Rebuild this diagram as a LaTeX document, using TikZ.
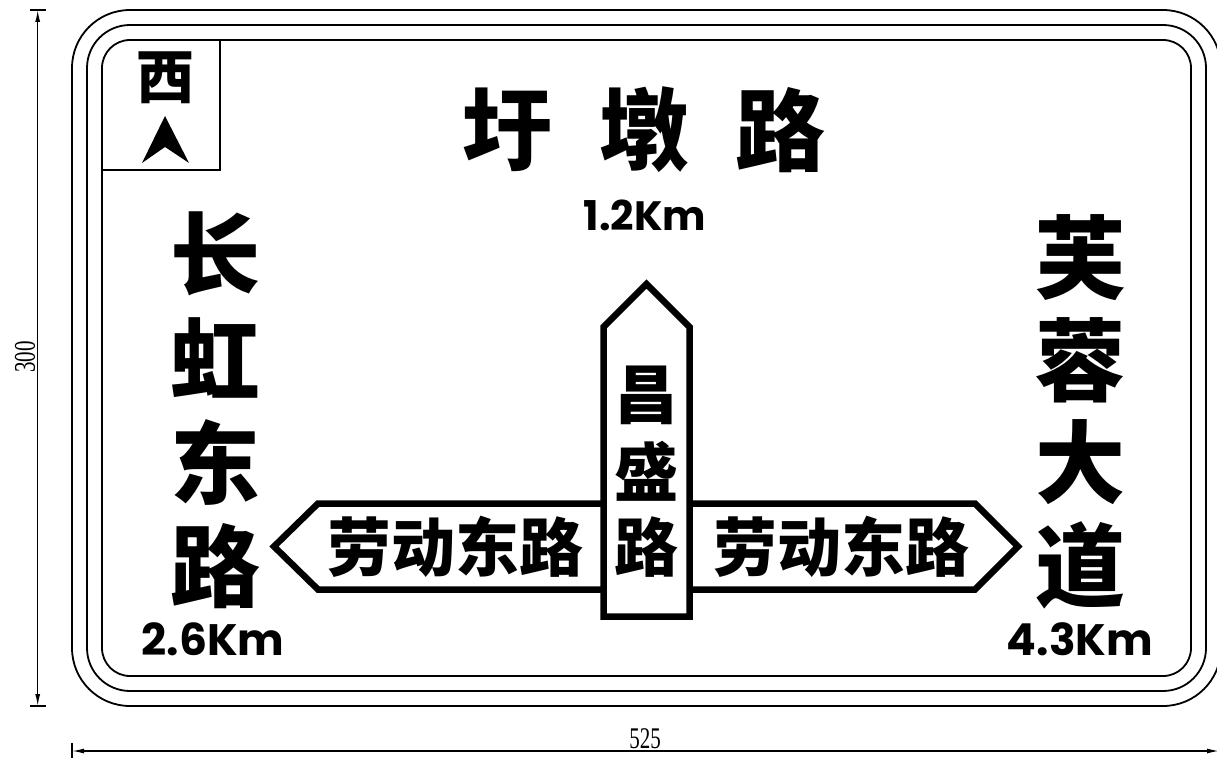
\documentclass[tikz,border=0pt]{standalone}
\usepackage{fontspec}
\usepackage{tikz}
\usepackage{xcolor}
\usetikzlibrary{arrows.meta}

\newfontfamily\cjk{Noto Sans CJK SC}
\newfontfamily\kmfont{Poppins}
\newfontfamily\dimfont{Liberation Serif}

\tikzset{
  bigname/.style={inner sep=0pt, font=\cjk\bfseries\fontsize{90}{90}\selectfont},
  roadname/.style={inner sep=0pt, font=\cjk\bfseries\fontsize{64}{64}\selectfont},
  dist/.style={inner sep=0pt, font=\kmfont\bfseries\fontsize{44}{44}\selectfont},
  dimtext/.style={inner sep=0pt, font=\dimfont\fontsize{30}{30}\selectfont},
  frame/.style={line width=1.8pt},
  arrowline/.style={line width=6.5pt, line join=miter, miter limit=4}
}

\begin{document}
\begin{tikzpicture}[x=1pt, y=-1pt]
\useasboundingbox (0,0) rectangle (1217,757);

% sign border
\draw [frame] (72,10) [rounded corners=58pt] rectangle (1221,706);
\draw [frame] (87,25) [rounded corners=43pt] rectangle (1206,691);
\draw [frame] (102,40) [rounded corners=28pt] rectangle (1191,676);

% north box
\draw [line width=1.5pt] (102,170) -- (220,170) -- (220,40);
\node [inner sep=0pt, font=\cjk\bfseries\fontsize{58}{58}\selectfont] (west) at (165,78) {西};
\fill [black] (165,116) -- (189,163) -- (165,147) -- (142,163) -- cycle;

% title
\node [bigname] (t1) at (507,130) {圩};
\node [bigname] (t2) at (644,130) {墩};
\node [bigname] (t3) at (780,130) {路};
\node [dist, font=\kmfont\bfseries\fontsize{41}{41}\selectfont] (d1) at (645,215) {1.2Km};

% left road
\node [bigname] (l1) at (215,254) {长};
\node [bigname] (l2) at (215,358) {虹};
\node [bigname] (l3) at (215,462) {东};
\node [bigname] (l4) at (215,566) {路};
\node [dist] (d2) at (213,639) {2.6Km};

% right road
\node [bigname] (r1) at (1080,258) {芙};
\node [bigname] (r2) at (1080,360) {蓉};
\node [bigname] (r3) at (1080,462) {大};
\node [bigname] (r4) at (1080,565) {道};
\node [dist] (d3) at (1080,639) {4.3Km};

% crossing road arrows
\draw [arrowline] (274,546.5) -- (318,503.5) -- (975,503.5) -- (1018,546.5)
  -- (975,589.5) -- (318,589.5) -- cycle;
\filldraw [arrowline, fill=white] (603.5,616.5) -- (603.5,327) -- (646.5,284)
  -- (689.5,327) -- (689.5,616.5) -- cycle;

\node [roadname] (h1) at (455,547) {劳动东路};
\node [roadname] (h2) at (841,547) {劳动东路};
\node [roadname] (v1) at (646,395) {昌};
\node [roadname] (v2) at (646,471) {盛};
\node [roadname] (v3) at (646,547) {路};

% dimensions
\coordinate (ytop) at (37.7,10);
\coordinate (ybot) at (37.7,706);
\coordinate (xleft) at (72,751);
\coordinate (xright) at (1219,751);
\draw [line width=1.3pt, {Latex[length=12pt,width=5pt]}-{Latex[length=12pt,width=5pt]}] (ytop) -- (ybot);
\draw [line width=1.3pt] (30,10) -- (46,10);
\draw [line width=1.3pt] (30,706) -- (46,706);
\draw [line width=1.3pt, {Latex[length=12pt,width=5pt]}-{Latex[length=12pt,width=5pt]}] (xleft) -- (xright);
\draw [line width=1.3pt] (72,743) -- (72,760);
\node [dimtext, rotate=90, xscale=0.7] (hgt) at (25,357) {300};
\node [dimtext, xscale=0.7] (wid) at (645,739) {525};

\end{tikzpicture}
\end{document}
